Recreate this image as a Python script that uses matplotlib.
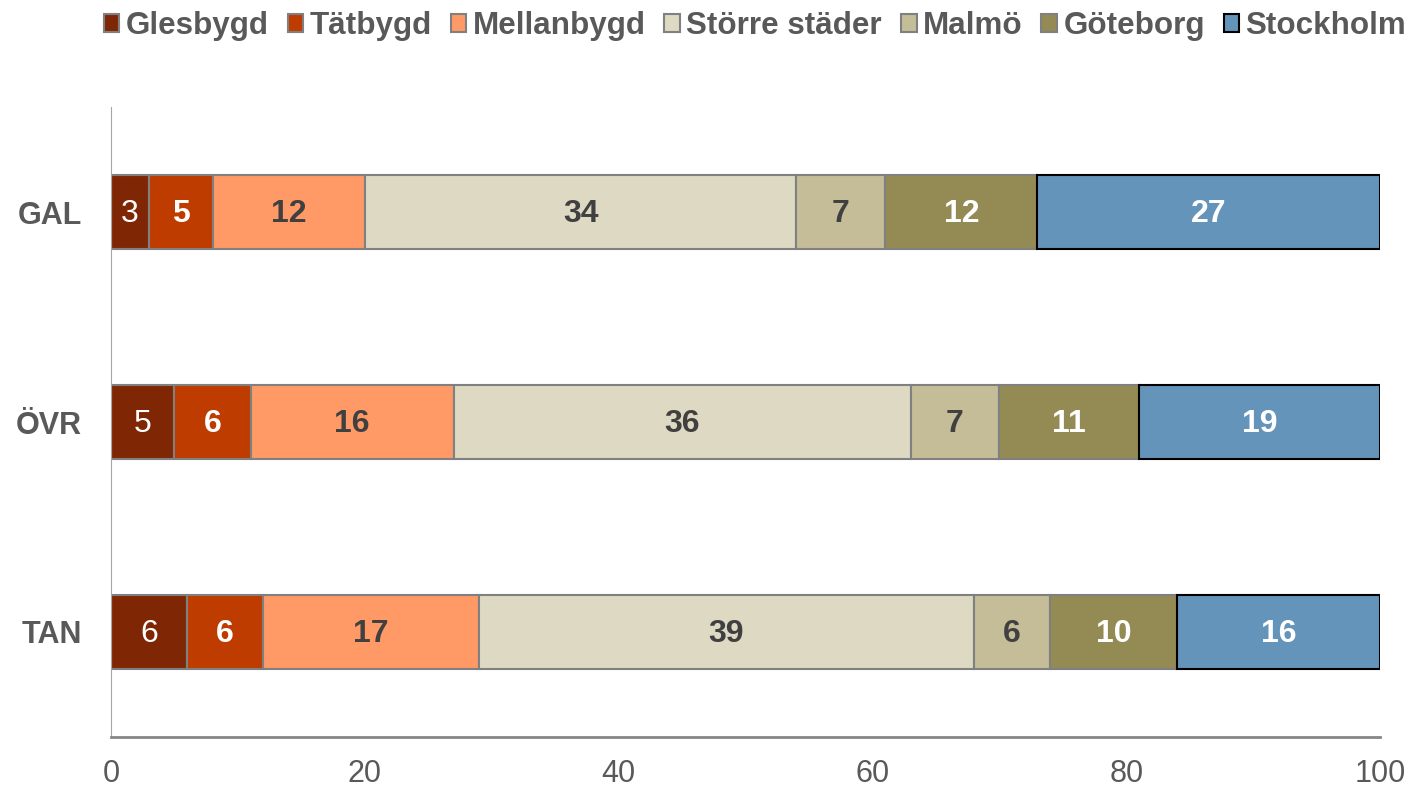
import matplotlib.pyplot as plt
import numpy as np

plt.rcParams['font.family'] = ['Liberation Sans', 'DejaVu Sans']

categories = ['GAL', 'ÖVR', 'TAN']
series = ['Glesbygd', 'Tätbygd', 'Mellanbygd', 'Större städer', 'Malmö', 'Göteborg', 'Stockholm']
values = {
    'Glesbygd': [3, 5, 6],
    'Tätbygd': [5, 6, 6],
    'Mellanbygd': [12, 16, 17],
    'Större städer': [34, 36, 39],
    'Malmö': [7, 7, 6],
    'Göteborg': [12, 11, 10],
    'Stockholm': [27, 19, 16],
}
colors = ['#7F2704', '#BF3C00', '#FF9966', '#DDD9C3', '#C4BD97', '#948A54', '#6594BB']
edges = ['#808080'] * 6 + ['#000000']
label_colors = ['white', 'white', '#404040', '#404040', '#404040', 'white', 'white']
label_weights = ['normal', 'bold', 'bold', 'bold', 'bold', 'bold', 'bold']

fig = plt.figure(figsize=(14.14, 7.89), dpi=100)
ax = fig.add_axes([0.0785, 0.066, 0.8975, 0.798])

y = np.arange(len(categories))
left = np.zeros(len(categories))
handles = []
for i, s in enumerate(series):
    vals = np.array(values[s], dtype=float)
    bars = ax.barh(y, vals, left=left, height=0.355, color=colors[i],
                   edgecolor=edges[i], linewidth=1.5, label=s)
    handles.append(bars)
    for yy, l, v in zip(y, left, vals):
        ax.text(l + v / 2, yy + 0.01, f'{int(v)}', ha='center', va='center',
                fontsize=23, color=label_colors[i], fontweight=label_weights[i])
    left += vals

ax.set_xlim(0, 100)
ax.set_ylim(2.5, -0.5)
ax.set_yticks(y)
ax.set_yticklabels(categories, fontsize=22, fontweight='bold', color='#595959')
ax.set_xticks(np.arange(0, 101, 20))
ax.tick_params(axis='x', labelsize=22, labelcolor='#595959', length=0, pad=16)
ax.tick_params(axis='y', length=0, pad=21)
for sp in ['top', 'right']:
    ax.spines[sp].set_visible(False)
ax.spines['left'].set_color('#A6A6A6')
ax.spines['bottom'].set_color('#868686')
ax.spines['bottom'].set_linewidth(2)

leg = fig.legend(handles=handles, loc='upper center', bbox_to_anchor=(0.534, 1.022),
                 ncol=7, frameon=False, fontsize=22.6, handlelength=0.5,
                 handleheight=0.5, handletextpad=0.2, columnspacing=0.6)
for t in leg.get_texts():
    t.set_color('#595959')
    t.set_fontweight('bold')

fig.savefig('out.png', dpi=100)
